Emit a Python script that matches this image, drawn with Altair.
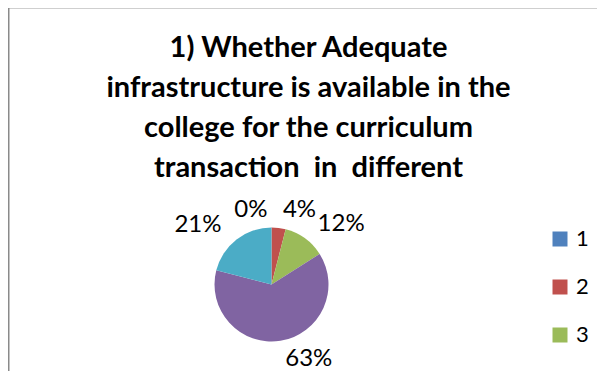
import altair as alt
import pandas as pd

categories = ["1", "2", "3", "4", "5"]
values = [0, 4, 12, 63, 21]
labels = ["0%", "4%", "12%", "63%", "21%"]
colors = ["#4F81BD", "#C0504D", "#9BBB59", "#8064A2", "#4BACC6"]
left_labels = ["1", "5"]
legend_shown = ["1", "2", "3"]
title_lines = [
    "1) Whether Adequate",
    "infrastructure is available in the",
    "college for the curriculum",
    "transaction \u00a0in \u00a0different",
]

df = pd.DataFrame({"cat": categories, "value": values, "label": labels,
                   "order": list(range(len(categories)))})

CX, CY = 263.5, 276.5

base = alt.Chart(df).encode(
    theta=alt.Theta("value:Q", stack=True),
    order=alt.Order("order:Q"),
)

arcs = base.mark_arc(outerRadius=57, stroke=None).encode(
    color=alt.Color(
        "cat:N",
        scale=alt.Scale(domain=categories, range=colors),
        legend=alt.Legend(
            values=legend_shown, title=None, orient="none",
            legendX=541, legendY=220, symbolType="square", symbolSize=225,
            symbolStrokeWidth=0, labelFontSize=22, labelFont="Lato",
            labelColor="#000000", labelOffset=5, rowPadding=26, padding=0,
        ),
    ),
    x=alt.value(CX), y=alt.value(CY),
)

is_left = alt.FieldOneOfPredicate(field="cat", oneOf=left_labels)

text_left = base.mark_text(radius=75, align="right", baseline="middle", dx=-4,
                           fontSize=24, font="Lato", color="#000000").encode(
    text=alt.condition(is_left, "label:N", alt.value("")),
    x=alt.value(CX), y=alt.value(CY),
)
text_right = base.mark_text(radius=75, align="left", baseline="middle", dx=2,
                            fontSize=24, font="Lato", color="#000000").encode(
    text=alt.condition(is_left, alt.value(""), "label:N"),
    x=alt.value(CX), y=alt.value(CY),
)

one = pd.DataFrame({"k": [0]})
top_rule = alt.Chart(one).mark_rule(color="#cfcfcf", strokeWidth=1).encode(
    x=alt.value(0), x2=alt.value(589), y=alt.value(0.5))
left_rule = alt.Chart(one).mark_rule(color="#8a8a8a", strokeWidth=1.5).encode(
    x=alt.value(0.75), y=alt.value(0), y2=alt.value(363))

chart = alt.layer(arcs, text_left, text_right, top_rule, left_rule).properties(
    width=589, height=363,
    autosize=alt.AutoSizeParams(type="none"),
    padding=0,
    title=alt.Title(text=title_lines, fontSize=29, font="Lato", fontWeight="bold",
                    color="#000000", lineHeight=40, anchor="middle", dx=6,
                    offset=-176),
).configure_view(stroke=None)

chart.save("out.html", embed_options={"renderer": "svg", "actions": False})
